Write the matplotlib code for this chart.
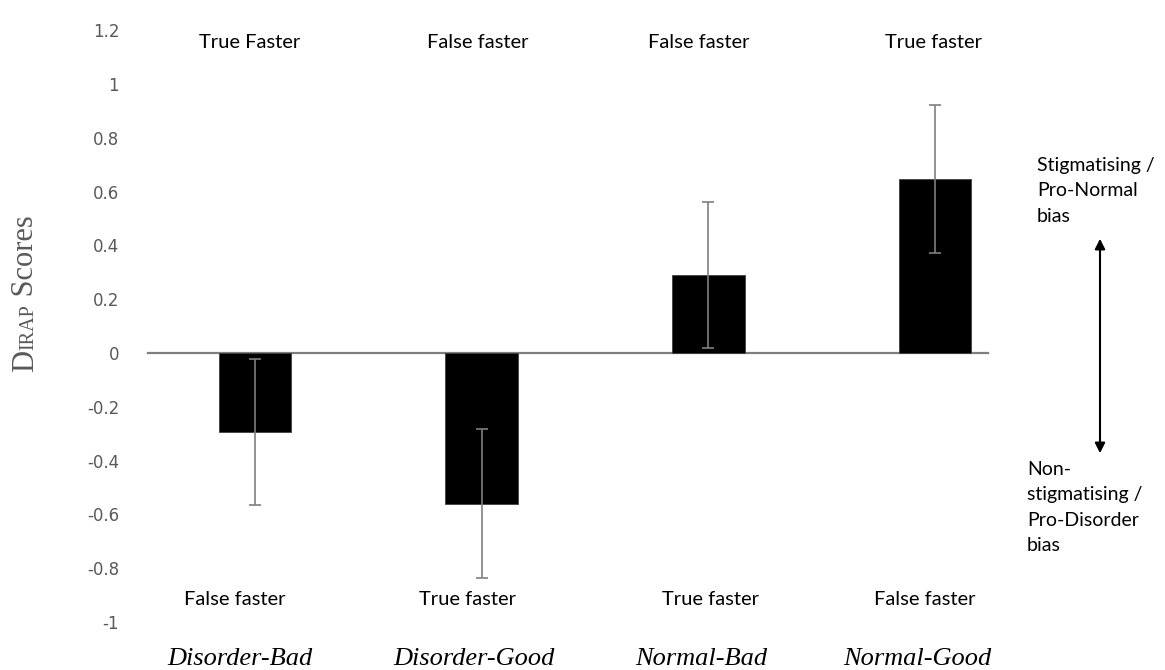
import matplotlib
matplotlib.use("Agg")
import matplotlib.pyplot as plt
from matplotlib.patches import FancyArrowPatch

categories = ["Disorder-Bad", "Disorder-Good", "Normal-Bad", "Normal-Good"]
means = [-0.295, -0.56, 0.29, 0.647]
errors = [0.272, 0.276, 0.272, 0.275]
top_labels = ["True Faster", "False faster", "False faster", "True faster"]
bottom_labels = ["False faster", "True faster", "True faster", "False faster"]
yticks = [1.2, 1, 0.8, 0.6, 0.4, 0.2, 0, -0.2, -0.4, -0.6, -0.8, -1]

# layout-only horizontal nudges of the free text boxes (in category units)
top_dx = [-0.022, -0.018, -0.044, -0.009]
bot_dx = [-0.088, -0.062, 0.009, -0.044]
cat_dx = [-0.066, -0.035, -0.031, -0.079]

W, H = 1165, 670
fig = plt.figure(figsize=(W/100, H/100), dpi=100)
L, R, T, B = 140, 1000, 20, 630
ax = fig.add_axes([L/W, (H-B)/H, (R-L)/W, (B-T)/H])

xs = list(range(len(categories)))
ax.bar(xs, means, width=0.32, color='black', edgecolor='#404040', linewidth=0.6, zorder=2)
ax.errorbar(xs, means, yerr=errors, fmt='none', ecolor='#7f7f7f', elinewidth=1.2,
            capsize=4.3, capthick=1.2, zorder=3)

ax.set_xlim(-0.507, 3.286)
ax.set_ylim(-1.030, 1.238)
ax.axhline(0, xmin=0.009, xmax=0.986, color='#7f7f7f', linewidth=1.6, zorder=1)

ax.set_yticks(yticks)
ax.set_yticklabels([f"{v:g}" for v in yticks])
ax.tick_params(axis='y', length=0, pad=15, labelsize=12, labelcolor='#595959')
for lab in ax.get_yticklabels():
    lab.set_family('DejaVu Sans')
ax.set_xticks([])
for s in ax.spines.values():
    s.set_visible(False)

for i, x in enumerate(xs):
    ax.text(x + top_dx[i], 1.134, top_labels[i], ha='center', va='baseline',
            fontsize=14.5, family='Lato', color='black')
    ax.text(x + bot_dx[i], -0.937, bottom_labels[i], ha='center', va='baseline',
            fontsize=14.5, family='Lato', color='black')
    ax.text(x + cat_dx[i], -1.16, categories[i], ha='center', va='baseline', fontsize=19,
            family='Liberation Serif', style='italic', color='black', clip_on=False)

# y-axis label: D + small-caps IRAP + Scores, rotated
fig.canvas.draw()
renderer = fig.canvas.get_renderer()
xb = 33 / W
ystart = 372
parts = [("D", 22), ("IRAP", 14.5), (" Scores", 22)]
cur = ystart
for txt, sz in parts:
    t = fig.text(xb, 1 - cur / H, txt, rotation=90, rotation_mode='anchor',
                 ha='left', va='baseline', fontsize=sz, family='Liberation Serif',
                 color='#595959')
    bb = t.get_window_extent(renderer=renderer)
    cur -= bb.height

fig.text(1037/W, 1-157/H, "Stigmatising /\nPro-Normal\nbias", ha='left', va='top',
         fontsize=14, family='Lato', linespacing=1.6)
fig.text(1027/W, 1-461/H, "Non-\nstigmatising /\nPro-Disorder\nbias", ha='left', va='top',
         fontsize=14, family='Lato', linespacing=1.6)
fig.patches.append(FancyArrowPatch(
    (1100/W, 1-236/H), (1100/W, 1-456/H), transform=fig.transFigure,
    arrowstyle='<|-|>', mutation_scale=15, color='black', linewidth=1.5))

fig.savefig("out.png", dpi=100)
